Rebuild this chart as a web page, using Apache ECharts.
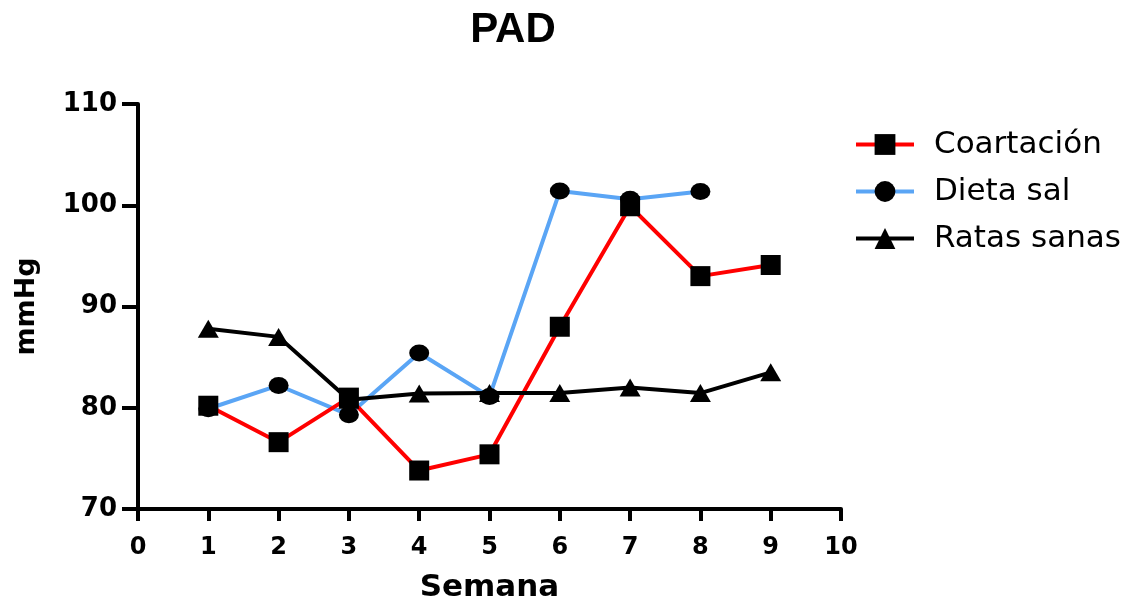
<!DOCTYPE html>
<html><head><meta charset="utf-8">
<script src="https://cdn.jsdelivr.net/npm/echarts@6/dist/echarts.min.js"></script>
<style>html,body{margin:0;padding:0;background:#fff}#c{width:1141px;height:602px}</style>
</head><body><div id="c"></div>
<script>
const weeks = [1,2,3,4,5,6,7,8,9];
const coartacion = [80.2,76.6,81.0,73.8,75.4,88.0,99.9,93.0,94.1];
const dietaSal = [79.9,82.2,79.3,85.4,81.1,101.4,100.6,101.35];
const ratasSanas = [87.8,87.0,80.8,81.4,81.45,81.45,82.0,81.45,83.5];
const seriesNames = ['Coartación','Dieta sal','Ratas sanas'];

function pairs(vals){ return vals.map((v,i)=>[weeks[i],v]); }
const arial = 'Liberation Sans, Arial, sans-serif';
const wide = 'DejaVu Sans, sans-serif';
const chart = echarts.init(document.getElementById('c'));
chart.setOption({
  animation:false,
  title:{text:'PAD',left:508,top:4,textAlign:'center',textStyle:{fontFamily:arial,fontSize:42,fontWeight:'bold',color:'#000'}},
  grid:{left:138,right:300,top:104,bottom:93,containLabel:false,outerBoundsMode:'none'},
  legend:{orient:'vertical',left:849,top:124,itemWidth:58,itemHeight:26,itemGap:16,
    lineStyle:{width:4},
    textStyle:{fontFamily:wide,fontSize:31,color:'#000',padding:[0,0,0,15]},
    data:seriesNames},
  xAxis:{type:'value',min:0,max:10,interval:1,name:'Semana',nameLocation:'middle',nameGap:63,
    nameTextStyle:{fontFamily:wide,fontSize:31,fontWeight:'bold',color:'#000'},
    axisLine:{lineStyle:{color:'#000',width:4}},axisTick:{length:12,lineStyle:{width:4,color:'#000'}},
    axisLabel:{fontFamily:wide,fontSize:24,fontWeight:'bold',color:'#000',margin:27},splitLine:{show:false}},
  yAxis:{type:'value',min:70,max:110,interval:10,name:'mmHg',nameLocation:'middle',nameGap:98,nameRotate:90,
    nameTextStyle:{fontFamily:wide,fontSize:27,fontWeight:'bold',color:'#000'},
    axisLine:{show:true,lineStyle:{color:'#000',width:4}},axisTick:{show:true,length:16,lineStyle:{width:4,color:'#000'}},
    axisLabel:{fontFamily:wide,fontSize:26,fontWeight:'bold',color:'#000',margin:21},splitLine:{show:false}},
  series:[
    {name:seriesNames[0],type:'line',data:pairs(coartacion),symbol:'rect',symbolSize:20,
     lineStyle:{color:'#ff0000',width:4},itemStyle:{color:'#000'},z:3},
    {name:seriesNames[1],type:'line',data:pairs(dietaSal),symbol:'circle',symbolSize:[20,17],
     lineStyle:{color:'#5aa5f5',width:4},itemStyle:{color:'#000'},z:2},
    {name:seriesNames[2],type:'line',data:pairs(ratasSanas),symbol:'triangle',symbolSize:[21,18],
     lineStyle:{color:'#000',width:4},itemStyle:{color:'#000'},z:4}
  ]
});
</script></body></html>
